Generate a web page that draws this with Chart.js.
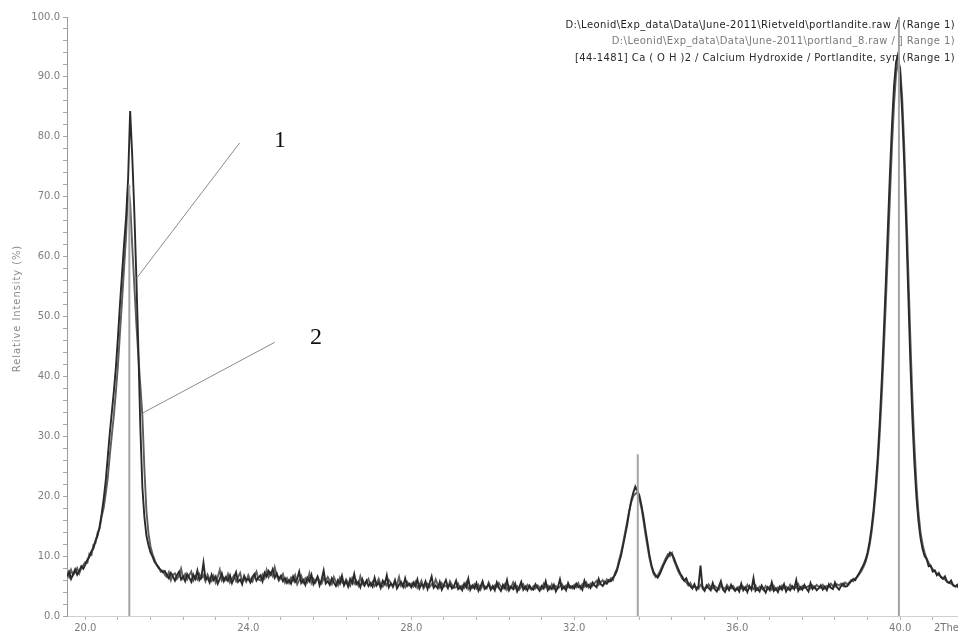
<!DOCTYPE html>
<html>
<head>
<meta charset="utf-8">
<script src="https://cdn.jsdelivr.net/npm/chart.js@4/dist/chart.umd.min.js"></script>
<style>
  html, body { margin: 0; padding: 0; background: #ffffff; overflow: hidden; }
  canvas { display: block; }
</style>
</head>
<body>
<canvas id="xrd" width="958" height="635"></canvas>
<script>
// Scan definition (degrees 2Theta)
const scanStart = 19.55;
const scanStep = 0.05;

// Measured pattern 1: portlandite.raw (relative intensity, %)
const portlanditeRaw = [
  6.6, 7.4, 6.2, 7.0, 7.8, 6.9, 7.5, 8.3, 7.9,
  8.6, 9.4, 9.9, 10.8, 11.3, 12.6, 13.4, 14.9, 17.0, 19.5, 22.5, 26.5, 30.5, 34.0, 37.5, 41.5, 46.5, 52.0, 57.0, 62.0,
  66.5, 73.0, 84.3, 77.0, 68.0, 57.0, 45.0, 31.5, 21.5, 16.5, 13.4, 11.8, 10.6, 9.9, 9.0, 8.6, 8.0, 7.7, 7.3, 7.5,
  6.9, 6.3, 7.2, 6.6, 5.9, 6.8, 7.4, 6.1, 6.6, 5.8, 7.0, 6.4, 5.7, 6.9, 6.2, 7.6, 6.0, 6.5, 8.9, 6.1,
  6.4, 5.6, 6.9, 6.0, 6.6, 5.4, 6.2, 7.1, 5.8, 6.5, 5.9, 6.8, 5.5, 6.3, 7.3, 5.7, 6.1, 5.3, 6.7, 6.0,
  6.2, 5.6, 6.5, 7.0, 5.9, 6.4, 6.8, 5.8, 7.2, 6.6, 7.5, 6.9, 7.8, 6.4, 7.1, 6.2, 6.7, 5.8, 6.3, 5.5,
  6.0, 5.4, 6.6, 5.7, 6.2, 7.4, 5.5, 6.0, 5.2, 6.4, 5.8, 6.9, 5.3, 5.9, 6.5, 5.1, 6.1, 7.6, 5.4, 5.8,
  5.2, 6.3, 5.6, 5.0, 6.0, 5.4, 6.7, 5.1, 5.8, 4.9, 6.2, 5.5, 7.0, 5.3, 5.7, 4.8, 6.1, 5.2, 5.9, 5.0,
  5.5, 4.9, 6.4, 5.1, 5.6, 4.7, 5.9, 5.3, 6.8, 4.8, 5.4, 5.0, 6.0, 4.6, 5.2, 5.7, 4.9, 6.3, 5.0, 5.4,
  4.8, 5.6, 5.0, 6.1, 4.6, 5.3, 4.9, 5.8, 4.5, 5.5, 6.6, 4.7, 5.1, 4.6, 5.7, 4.4, 5.2, 6.0, 4.8, 5.3,
  4.6, 5.0, 5.9, 4.5, 4.9, 4.3, 5.4, 4.8, 6.2, 4.4, 5.1, 4.6, 5.5, 4.2, 4.9, 5.8, 4.5, 4.8, 5.3, 4.4,
  5.0, 4.3, 5.6, 4.7, 4.2, 5.2, 4.6, 6.0, 4.3, 4.9, 4.5, 5.4, 4.1, 4.8, 5.7, 4.4, 4.9, 4.3, 5.1, 4.6,
  4.4, 5.3, 4.7, 4.2, 5.0, 4.6, 5.8, 4.3, 4.9, 4.5, 5.2, 4.1, 4.8, 6.1, 4.5, 4.9, 4.3, 5.5, 4.7, 5.0,
  4.6, 5.4, 4.8, 5.0, 4.4, 5.9, 4.9, 5.2, 4.7, 5.6, 5.1, 4.8, 6.2, 5.3, 5.0, 5.7, 5.4, 6.0, 5.8, 6.4,
  6.8, 7.6, 8.9, 10.1, 11.8, 13.5, 15.2, 17.4, 19.3, 20.6, 21.6, 20.9, 20.1, 18.5, 16.6, 14.3, 12.2, 10.0, 8.4, 7.3,
  6.8, 6.4, 7.0, 7.8, 8.6, 9.3, 9.9, 10.6, 10.3, 9.6, 8.7, 7.9, 7.1, 6.6, 5.9, 6.3, 5.4, 5.0, 4.6, 5.3,
  4.4, 5.0, 8.4, 4.6, 4.2, 5.1, 4.7, 4.3, 5.5, 4.5, 4.1, 4.9, 5.8, 4.4, 4.0, 4.8, 4.3, 5.2, 4.6, 4.2,
  4.7, 4.1, 5.4, 4.3, 4.8, 4.0, 5.0, 4.4, 6.3, 4.2, 4.6, 4.1, 5.1, 4.5, 3.9, 4.8, 4.3, 5.6, 4.2, 4.6,
  4.0, 4.9, 4.4, 5.3, 4.1, 4.7, 4.3, 5.0, 4.5, 6.0, 4.2, 4.8, 4.4, 5.2, 4.6, 4.1, 5.5, 4.5, 4.9, 4.3,
  4.6, 5.1, 4.4, 4.9, 4.3, 5.3, 4.7, 4.5, 5.6, 4.8, 4.4, 5.0, 5.4, 4.9, 5.0, 5.4, 5.8, 6.2, 6.0, 6.7,
  7.2, 7.9, 8.5, 9.4, 10.6, 12.4, 14.8, 17.9, 21.8, 26.5, 32.5, 39.5, 47.5, 56.0, 65.0, 74.0, 82.0, 88.5, 92.5, 93.8,
  90.5, 84.0, 75.5, 65.0, 53.5, 42.5, 33.0, 25.5, 19.8, 15.8, 13.0, 11.2, 10.0, 9.5, 8.3, 8.4, 7.4, 7.6, 6.8, 7.2,
  6.5, 6.2, 6.6, 5.7, 5.5, 5.9, 5.1, 4.9, 5.2, 4.6
];

// Measured pattern 2: portland_8.raw (relative intensity, %)
const portland8Raw = [
  7.2, 6.5, 7.7, 6.8, 7.3, 8.0, 7.1, 8.0, 8.5,
  9.0, 8.9, 10.4, 10.2, 11.9, 12.2, 13.9, 14.6, 16.6, 18.0, 20.4, 23.0, 26.8, 30.2, 33.5, 37.4, 41.8, 47.2, 52.5, 58.0,
  63.5, 71.8, 69.0, 62.0, 55.5, 49.0, 43.5, 38.5, 33.5, 24.5, 17.5, 13.8, 11.6, 10.3, 9.4, 8.5, 8.2, 7.4, 7.6, 6.9,
  6.5, 7.3, 6.0, 6.9, 7.1, 6.2, 6.7, 7.9, 6.3, 7.0, 6.1, 6.8, 7.4, 5.9, 6.6, 6.1, 7.0, 6.3, 6.8, 5.8,
  6.9, 6.2, 5.8, 6.7, 5.6, 6.5, 7.7, 5.9, 6.4, 6.0, 7.0, 5.6, 6.2, 6.8, 5.8, 6.5, 7.2, 5.9, 6.2, 5.7,
  6.8, 6.0, 5.7, 6.6, 7.4, 6.1, 5.9, 6.9, 6.3, 7.7, 6.5, 7.2, 6.6, 8.1, 6.7, 5.9, 6.4, 7.0, 5.6, 6.3,
  5.5, 6.4, 5.9, 6.8, 5.3, 6.0, 6.7, 5.6, 6.3, 5.7, 7.1, 5.5, 6.2, 5.6, 6.6, 5.8, 5.4, 6.3, 5.9, 6.5,
  5.8, 5.3, 6.5, 5.7, 5.1, 6.4, 5.6, 5.3, 6.1, 5.5, 5.0, 6.3, 5.4, 5.9, 5.1, 6.6, 5.4, 5.0, 5.6, 6.2,
  5.1, 5.7, 5.0, 5.5, 6.2, 5.2, 4.9, 5.7, 5.1, 6.0, 5.5, 4.8, 5.6, 5.2, 6.5, 5.0, 5.4, 4.8, 5.7, 5.1,
  5.4, 4.9, 5.7, 4.7, 5.2, 5.9, 4.6, 5.1, 5.4, 4.8, 5.3, 5.0, 6.1, 5.2, 4.7, 5.5, 4.9, 5.1, 4.6, 5.8,
  5.2, 4.7, 4.8, 5.4, 4.6, 5.1, 4.7, 5.6, 4.5, 5.0, 4.7, 5.3, 4.6, 5.2, 4.4, 5.1, 5.0, 4.6, 5.6, 4.8,
  4.6, 5.1, 4.8, 5.5, 4.9, 4.6, 5.3, 4.4, 5.0, 4.7, 5.6, 4.6, 5.0, 4.4, 4.9, 5.3, 4.5, 5.2, 4.7, 4.4,
  5.0, 4.6, 5.1, 4.8, 4.5, 5.4, 4.8, 5.1, 4.5, 5.3, 4.6, 5.0, 4.6, 4.9, 5.3, 4.6, 5.1, 4.8, 5.0, 4.6,
  5.2, 4.8, 5.5, 4.6, 5.3, 4.9, 5.6, 4.8, 5.4, 5.0, 5.5, 5.9, 5.2, 5.6, 6.0, 5.4, 6.1, 5.7, 6.3, 6.0,
  7.2, 7.9, 9.3, 10.6, 12.2, 14.0, 15.8, 17.6, 19.0, 20.0, 20.4, 20.6, 19.6, 18.0, 15.9, 13.6, 11.5, 9.6, 8.1, 7.0,
  6.5, 6.8, 7.4, 8.2, 8.9, 9.7, 10.3, 10.0, 10.5, 9.2, 8.4, 7.5, 6.9, 6.2, 6.0, 5.6, 5.1, 5.5, 4.8, 4.9,
  4.8, 4.5, 5.2, 4.9, 4.6, 4.7, 5.3, 4.8, 4.6, 5.0, 4.7, 4.4, 5.1, 4.8, 4.5, 5.2, 4.7, 4.6, 5.0, 4.5,
  4.4, 4.9, 4.6, 4.9, 4.4, 5.2, 4.6, 4.8, 4.5, 5.1, 4.4, 4.9, 4.6, 4.3, 5.0, 4.5, 4.9, 4.4, 5.0, 4.4,
  4.8, 4.5, 5.1, 4.6, 4.9, 4.5, 5.2, 4.6, 4.9, 4.7, 5.3, 4.5, 5.0, 4.7, 4.8, 5.0, 4.6, 5.1, 4.7, 5.2,
  4.9, 4.7, 5.2, 4.6, 5.0, 4.8, 5.4, 5.0, 4.9, 5.3, 5.1, 5.4, 5.0, 5.6, 5.3, 5.6, 6.0, 5.8, 6.3, 6.5,
  7.0, 7.5, 8.2, 9.0, 10.2, 11.8, 14.0, 16.9, 20.5, 25.0, 30.5, 37.0, 44.5, 52.5, 61.0, 70.0, 78.5, 85.5, 90.5, 92.5,
  91.5, 86.5, 78.5, 68.5, 57.5, 46.5, 36.5, 28.5, 22.0, 17.2, 14.0, 12.0, 10.6, 9.6, 8.9, 8.3, 7.8, 7.5, 7.1, 6.8,
  6.6, 6.3, 6.1, 5.8, 5.6, 5.4, 5.2, 5.0, 4.9, 4.7
];

// Reference pattern [44-1481] Ca(OH)2 portlandite: stick positions and intensities
const stickTwoTheta = [21.08, 33.56, 39.97];
const stickIntensity = [72, 27, 100];

// Axis labels
const xTickLabels = ['20.0', '24.0', '28.0', '32.0', '36.0', '40.0'];
const yTickLabels = ['0.0', '10.0', '20.0', '30.0', '40.0', '50.0', '60.0', '70.0', '80.0', '90.0', '100.0'];
const xUnitLabel = '2Theta';
const yAxisTitle = 'Relative Intensity (%)';

// Legend entries (file / card names)
const legendEntries = [
  'D:\\Leonid\\Exp_data\\Data\\June-2011\\Rietveld\\portlandite.raw / (Range 1)',
  'D:\\Leonid\\Exp_data\\Data\\June-2011\\portland_8.raw / ] Range 1)',
  '[44-1481] Ca ( O H )2 / Calcium Hydroxide / Portlandite, syn (Range 1)'
];
const legendColors = ['#1e1e1e', '#7a7a7a', '#2a2a2a'];

// Numbered callouts pointing at the two patterns (data coordinates)
const calloutText = ['1', '2'];
const calloutAnchor = [[24.78, 79.3], [25.66, 46.4]];
const calloutLineFrom = [[23.79, 79.0], [24.65, 45.7]];
const calloutLineTo = [[21.26, 56.4], [21.41, 33.9]];

const X_MIN = 19.55, X_MAX = 41.42;
const SANS = '"DejaVu Sans", Verdana, sans-serif';

function toPoints(values) {
  return values.map((y, i) => ({ x: +(scanStart + i * scanStep).toFixed(2), y: y }));
}

function stickPoints() {
  const pts = [];
  stickTwoTheta.forEach((t, i) => {
    pts.push({ x: t, y: 0 }, { x: t, y: stickIntensity[i] }, { x: t, y: null });
  });
  return pts;
}

const overlayPlugin = {
  id: 'overlay',
  afterDraw(chart) {
    const { ctx, scales: { x, y } } = chart;
    ctx.save();
    // callouts
    ctx.strokeStyle = '#8a8a8a';
    ctx.lineWidth = 1;
    calloutText.forEach((t, i) => {
      ctx.beginPath();
      ctx.moveTo(x.getPixelForValue(calloutLineFrom[i][0]), y.getPixelForValue(calloutLineFrom[i][1]));
      ctx.lineTo(x.getPixelForValue(calloutLineTo[i][0]), y.getPixelForValue(calloutLineTo[i][1]));
      ctx.stroke();
      ctx.fillStyle = '#111';
      ctx.font = '24px "Liberation Serif", "Times New Roman", serif';
      ctx.textAlign = 'center';
      ctx.textBaseline = 'middle';
      ctx.fillText(t, x.getPixelForValue(calloutAnchor[i][0]), y.getPixelForValue(calloutAnchor[i][1]));
    });
    // legend text block, top right
    ctx.font = '10px ' + SANS;
    ctx.letterSpacing = '0.4px';
    ctx.textAlign = 'right';
    ctx.textBaseline = 'middle';
    legendEntries.forEach((t, i) => {
      ctx.fillStyle = legendColors[i];
      ctx.fillText(t, chart.width - 3, 25 + i * 16.5);
    });
    // y axis title, rotated
    ctx.save();
    ctx.translate(17, (y.top + y.bottom) / 2 - 8);
    ctx.rotate(-Math.PI / 2);
    ctx.letterSpacing = '0.9px';
    ctx.font = '10px ' + SANS;
    ctx.fillStyle = '#8a8a8a';
    ctx.textAlign = 'center';
    ctx.fillText(yAxisTitle, 0, 0);
    ctx.restore();
    // x unit label
    ctx.letterSpacing = '0px';
    ctx.fillStyle = '#777';
    ctx.textAlign = 'left';
    ctx.font = '10px ' + SANS;
    ctx.fillText(xUnitLabel, x.right - 24, y.bottom + 12);
    ctx.restore();
  }
};

new Chart(document.getElementById('xrd'), {
  type: 'line',
  data: {
    datasets: [
      {
        label: 'PDF 44-1481',
        data: stickPoints(),
        borderColor: '#a4a4a4',
        borderWidth: 2,
        pointRadius: 0,
        spanGaps: false,
        order: 0
      },
      {
        label: 'portlandite.raw',
        data: toPoints(portlanditeRaw),
        borderColor: '#2a2a2a',
        borderWidth: 1.9,
        pointRadius: 0,
        order: 1
      },
      {
        label: 'portland_8.raw',
        data: toPoints(portland8Raw),
        borderColor: '#5e5e5e',
        borderWidth: 1.9,
        pointRadius: 0,
        order: 2
      }
    ]
  },
  options: {
    responsive: false,
    animation: false,
    devicePixelRatio: 1,
    layout: { padding: { top: 17, right: 0, bottom: 0, left: 0 } },
    plugins: { legend: { display: false }, tooltip: { enabled: false } },
    elements: { line: { tension: 0 } },
    scales: {
      x: {
        type: 'linear',
        min: X_MIN,
        max: X_MAX,
        afterBuildTicks(scale) {
          const ticks = [];
          for (let k = 0; k < 40; k++) {
            const v = +(20 + k * 0.8).toFixed(1);
            if (v <= X_MAX) ticks.push({ value: v });
          }
          scale.ticks = ticks;
        },
        afterFit(scale) { scale.height = 19; },
        ticks: {
          autoSkip: false,
          maxRotation: 0,
          padding: 2,
          color: '#7d7d7d',
          font: { family: SANS, size: 10 },
          callback(v) {
            const s = Number(v).toFixed(1);
            return xTickLabels.includes(s) ? s : '';
          }
        },
        grid: { drawOnChartArea: false, drawTicks: true, tickLength: 4, color: '#b5b5b5' },
        border: { display: true, color: '#d0d0d0' }
      },
      y: {
        type: 'linear',
        min: 0,
        max: 100,
        afterBuildTicks(scale) {
          const ticks = [];
          for (let v = 0; v <= 100; v += 2) ticks.push({ value: v });
          scale.ticks = ticks;
        },
        afterFit(scale) { scale.width = 67; },
        ticks: {
          autoSkip: false,
          padding: 3,
          color: '#7d7d7d',
          font: { family: SANS, size: 10 },
          callback(v) {
            const s = Number(v).toFixed(1);
            return yTickLabels.includes(s) ? s : '';
          }
        },
        grid: { drawOnChartArea: false, drawTicks: true, tickLength: 4, color: '#a8a8a8' },
        border: { display: true, color: '#9a9a9a' }
      }
    }
  },
  plugins: [overlayPlugin]
});
</script>
</body>
</html>
